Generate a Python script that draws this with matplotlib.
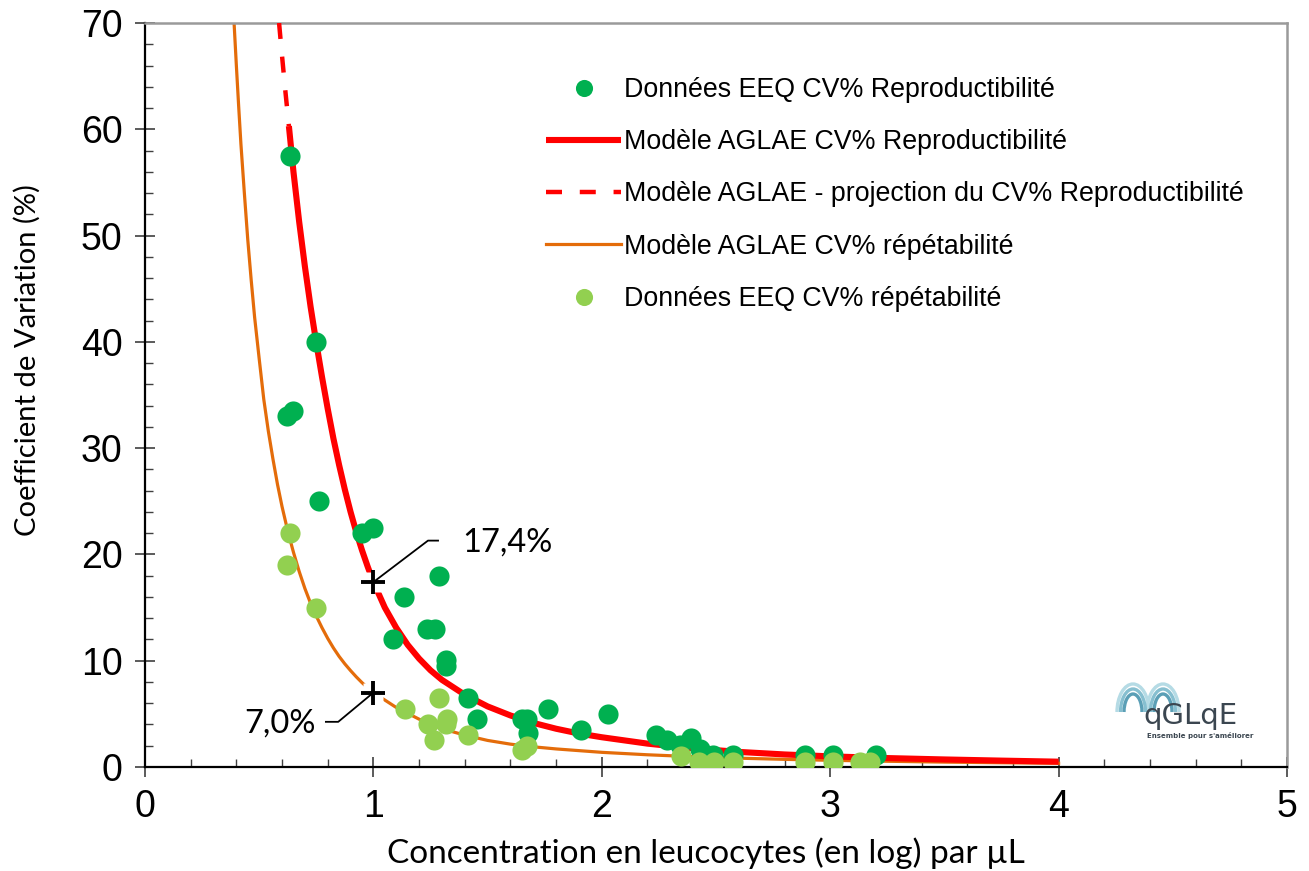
import matplotlib
matplotlib.use("Agg")
import matplotlib.pyplot as plt
from matplotlib.patches import Arc
from matplotlib.ticker import MultipleLocator

# EEQ data, reproducibility CV% (dark green)
repro_x = [0.635, 0.749, 0.620, 0.647, 0.763, 0.951, 1.000, 1.287, 1.136, 1.087, 1.233, 1.270,
           1.318, 1.318, 1.413, 1.455, 1.649, 1.671, 1.678, 1.764, 1.910, 2.026, 2.237, 2.287,
           2.342, 2.389, 2.430, 2.488, 2.576, 2.890, 3.014, 3.200]
repro_y = [57.5, 40.0, 33.0, 33.5, 25.0, 22.0, 22.5, 18.0, 16.0, 12.0, 13.0, 13.0,
           10.1, 9.5, 6.5, 4.5, 4.5, 4.5, 3.2, 5.5, 3.5, 5.0, 3.0, 2.5,
           2.1, 2.7, 1.7, 1.1, 1.1, 1.1, 1.1, 1.1]

# EEQ data, repeatability CV% (light green)
repeat_x = [0.635, 0.620, 0.749, 1.138, 1.287, 1.240, 1.321, 1.320, 1.265, 1.413, 1.649, 1.674,
            2.347, 2.427, 2.493, 2.576, 2.890, 3.014, 3.130, 3.174]
repeat_y = [22.0, 19.0, 15.0, 5.5, 6.5, 4.0, 4.5, 4.0, 2.5, 3.0, 1.6, 2.0,
            1.0, 0.5, 0.5, 0.5, 0.5, 0.5, 0.5, 0.5]

# AGLAE model, reproducibility (projection part, dashed)
proj_x = [0.587, 0.600, 0.615, 0.630]
proj_y = [70.0, 66.9, 63.5, 60.3]

# AGLAE model, reproducibility (solid part)
model_r_x = [0.630, 0.650, 0.675, 0.700, 0.725, 0.750, 0.775, 0.800, 0.825, 0.850, 0.875, 0.900,
             0.925, 0.950, 0.975, 1.000, 1.050, 1.100, 1.150, 1.200, 1.250, 1.300, 1.400, 1.500,
             1.600, 1.700, 1.800, 1.900, 2.000, 2.200, 2.400, 2.600, 2.800, 3.000, 3.250, 3.500,
             3.750, 4.000]
model_r_y = [60.3, 56.0, 51.3, 47.1, 43.3, 39.9, 36.7, 33.7, 30.9, 28.4, 26.1, 24.0,
             22.1, 20.4, 18.85, 17.4, 15.0, 13.1, 11.5, 10.2, 9.1, 8.2, 6.8, 5.7,
             4.85, 4.15, 3.6, 3.15, 2.8, 2.2, 1.75, 1.42, 1.18, 1.0, 0.84, 0.71,
             0.60, 0.50]

# AGLAE model, repeatability
model_p_x = [0.390, 0.400, 0.410, 0.420, 0.435, 0.450, 0.465, 0.480, 0.500, 0.520, 0.540, 0.560,
             0.580, 0.600, 0.625, 0.650, 0.675, 0.700, 0.725, 0.750, 0.775, 0.800, 0.825, 0.850,
             0.875, 0.900, 0.925, 0.950, 0.975, 1.000, 1.100, 1.200, 1.300, 1.400, 1.500, 1.600,
             1.700, 1.800, 2.000, 2.200, 2.400, 2.600, 2.800, 3.000, 3.250, 3.500, 3.750, 4.000]
model_p_y = [70.0, 66.0, 62.2, 58.6, 54.0, 49.6, 45.8, 42.3, 38.4, 34.6, 31.6, 29.0,
             26.6, 24.5, 22.2, 20.2, 18.4, 16.8, 15.4, 14.2, 13.1, 12.1, 11.2, 10.4,
             9.7, 9.07, 8.48, 7.94, 7.45, 7.0, 5.6, 4.5, 3.6, 3.0, 2.5, 2.15,
             1.9, 1.7, 1.38, 1.15, 0.97, 0.83, 0.72, 0.63, 0.54, 0.46, 0.40, 0.35]

# highlighted values at log concentration 1
mark_x = [1.0, 1.0]
mark_y = [17.4, 7.0]
mark_labels = ["17,4%", "7,0%"]

DARK_GREEN = "#00B050"
LIGHT_GREEN = "#92D050"
RED = "#FF0000"
ORANGE = "#E46C0A"

fig = plt.figure(figsize=(13.09, 8.71), dpi=100)
ax = fig.add_axes([145 / 1309, 1 - 767 / 871, 1142 / 1309, 744 / 871])

ax.plot(model_p_x, model_p_y, color=ORANGE, lw=2.3, zorder=2,
        label="Modèle AGLAE CV% répétabilité")
ax.plot(proj_x, proj_y, color=RED, lw=3.2, dashes=(3.6, 4.0), zorder=3,
        label="Modèle AGLAE - projection du CV% Reproductibilité")
ax.plot(model_r_x, model_r_y, color=RED, lw=4.4, zorder=3, solid_capstyle="butt",
        label="Modèle AGLAE CV% Reproductibilité")
ax.plot(repro_x, repro_y, "o", ms=14.5, color=DARK_GREEN, mec="none", zorder=4,
        label="Données EEQ CV% Reproductibilité")
ax.plot(repeat_x, repeat_y, "o", ms=14.5, color=LIGHT_GREEN, mec="none", zorder=5,
        label="Données EEQ CV% répétabilité")

# white box behind the crosses, then the crosses
ax.plot(mark_x, mark_y, "s", ms=15, color="white", mec="none", zorder=6)
ax.plot(mark_x, mark_y, "+", ms=17, mew=2.8, color="black", zorder=7)

# leader lines and labels
ax.plot([mark_x[0], 1.239, 1.283], [mark_y[0], 21.3, 21.3], color="black", lw=1.3, zorder=7)
ax.text(1.39, 21.1, mark_labels[0], fontsize=23.5, family="Lato", va="center", ha="left")
ax.plot([mark_x[1], 0.846, 0.792], [mark_y[1], 4.25, 4.25], color="black", lw=1.3, zorder=7)
ax.text(0.747, 4.1, mark_labels[1], fontsize=23.5, family="Lato", va="center", ha="right")

ax.set_xlim(0, 5)
ax.set_ylim(0, 70)
ax.xaxis.set_major_locator(MultipleLocator(1))
ax.xaxis.set_minor_locator(MultipleLocator(0.2))
ax.yaxis.set_major_locator(MultipleLocator(10))
ax.yaxis.set_minor_locator(MultipleLocator(2))
ax.tick_params(which="major", direction="inout", length=14, width=1.2, color="#404040",
               labelsize=27)
ax.tick_params(axis="x", which="major", pad=9)
ax.tick_params(axis="y", which="major", pad=9)
ax.tick_params(which="minor", direction="in", length=6, width=1.0, color="#404040")
for lab in ax.get_xticklabels() + ax.get_yticklabels():
    lab.set_family("Liberation Sans")

for side in ["left", "bottom"]:
    ax.spines[side].set_color("black")
    ax.spines[side].set_linewidth(1.6)
for side in ["top", "right"]:
    ax.spines[side].set_color("#9a9a9a")
    ax.spines[side].set_linewidth(1.8)

ax.set_xlabel("Concentration en leucocytes (en log) par µL", fontsize=24, family="Lato")
ax.set_ylabel("Coefficient de Variation (%)", fontsize=21, family="Lato")
ax.xaxis.set_label_coords(0.491, -0.095)
ax.yaxis.set_label_coords(-0.091, 0.547)

handles, labels = ax.get_legend_handles_labels()
order = [3, 2, 1, 0, 4]
leg = ax.legend([handles[i] for i in order], [labels[i] for i in order],
                loc="upper left", bbox_to_anchor=(0.330, 0.960), frameon=False,
                prop={"family": "Liberation Sans", "size": 19.3},
                handlelength=2.8, handletextpad=0.1, labelspacing=0.98, markerscale=0.85)


# AGLAE logo (rough)
def fx(px):
    return px / 1309


def fy(py):
    return 1 - py / 871


for i, col in enumerate(["#b5dbe5", "#86bfd0", "#5b9fb6"]):
    for cx in [1133, 1163]:
        fig.patches.append(Arc((fx(cx), fy(712)), (32 - 7 * i) / 1309, (56 - 10 * i) / 871,
                               theta1=0, theta2=180, color=col, lw=2.4,
                               transform=fig.transFigure, figure=fig))
fig.text(fx(1143), fy(716), "qGLqE", fontsize=21, color="#3b4650", family="DejaVu Sans",
         va="center", ha="left")
fig.text(fx(1147), fy(735), "Ensemble pour s'améliorer", fontsize=5, color="#3b4650",
         family="DejaVu Sans", fontweight="bold", va="center", ha="left")

fig.savefig("out.png", dpi=100)
